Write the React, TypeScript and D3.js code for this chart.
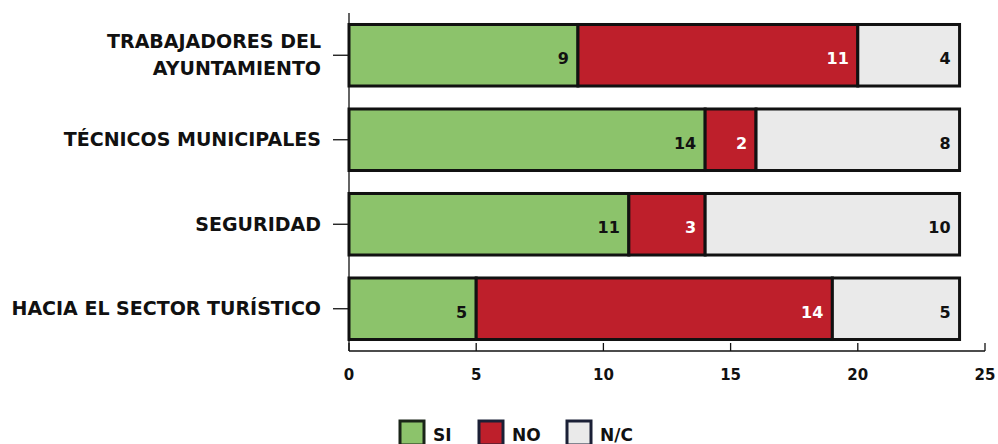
import React from "react";
import * as d3 from "d3";

const categories: string[][] = [
  ["TRABAJADORES DEL", "AYUNTAMIENTO"],
  ["TÉCNICOS MUNICIPALES"],
  ["SEGURIDAD"],
  ["HACIA EL SECTOR TURÍSTICO"],
];
const siValues = [9, 14, 11, 5];
const noValues = [11, 2, 3, 14];
const ncValues = [4, 8, 10, 5];
const seriesNames = ["SI", "NO", "N/C"];
const seriesColors = ["#8cc36b", "#be1f2b", "#eaeaea"];
const legendStrokes = ["#1a2418", "#1b2036", "#1b2036"];
const labelColors = ["#111", "#fff", "#111"];
const xTicks = [0, 5, 10, 15, 20, 25];

const W = 998;
const H = 444;
const FONT = "'DejaVu Sans', sans-serif";

export default function App() {
  const x = d3.scaleLinear().domain([0, 25]).range([349, 985]);
  const y = d3
    .scaleBand<number>()
    .domain(d3.range(categories.length))
    .range([13, 351])
    .paddingInner(0.272)
    .paddingOuter(0.136);

  const rows = categories.map((_, i) => ({ i, vals: [siValues[i], noValues[i], ncValues[i]] }));
  const stack = d3.stack<any>().keys(["0", "1", "2"]).value((d, k) => d.vals[+k]);
  const stacked = stack(rows);

  const bw = y.bandwidth();

  return (
    <div style={{ position: "fixed", left: 0, top: 0 }}>
      <svg width={W} height={H} style={{ display: "block", background: "#fff" }} fontFamily={FONT}>
        {/* bars */}
        {stacked.map((layer, s) =>
          layer.map((seg, i) => {
            const x0 = x(seg[0]);
            const x1 = x(seg[1]);
            const yy = y(i)!;
            return (
              <g key={`${s}-${i}`}>
                <rect x={x0} y={yy} width={x1 - x0} height={bw} fill={seriesColors[s]} stroke="#111" strokeWidth={3} />
                <text
                  x={x1 - 9}
                  y={yy + bw / 2 + 9}
                  textAnchor="end"
                  fontSize={16}
                  fontWeight="bold"
                  fill={labelColors[s]}
                >
                  {seg[1] - seg[0]}
                </text>
              </g>
            );
          })
        )}
        {/* y axis */}
        <line x1={349} x2={349} y1={13} y2={351} stroke="#111" strokeWidth={1.3} />
        {categories.map((lines, i) => {
          const c = y(i)! + bw / 2;
          return (
            <g key={i}>
              <line x1={333} x2={349} y1={c} y2={c} stroke="#111" strokeWidth={1.3} />
              {lines.map((ln, j) => (
                <text
                  key={j}
                  x={321}
                  y={c + 6.5 - ((lines.length - 1) * 27) / 2 + j * 27}
                  textAnchor="end"
                  fontSize={19}
                  fontWeight="bold"
                  fill="#111"
                >
                  {ln}
                </text>
              ))}
            </g>
          );
        })}
        {/* x axis */}
        <line x1={349} x2={x(25)} y1={351} y2={351} stroke="#111" strokeWidth={1.3} />
        {xTicks.map((t) => (
          <g key={t}>
            <line x1={x(t)} x2={x(t)} y1={343} y2={351} stroke="#111" strokeWidth={1.3} />
            <text x={x(t)} y={380} textAnchor="middle" fontSize={15} fontWeight="bold" fill="#111">
              {t}
            </text>
          </g>
        ))}
        {/* legend */}
        {seriesNames.map((n, s) => {
          const lx = [400, 479, 567][s];
          return (
            <g key={n}>
              <rect x={lx} y={421} width={24} height={24} fill={seriesColors[s]} stroke={legendStrokes[s]} strokeWidth={3} />
              <text x={lx + 33} y={441} fontSize={17} fontWeight="bold" fill="#111">
                {n}
              </text>
            </g>
          );
        })}
      </svg>
    </div>
  );
}
